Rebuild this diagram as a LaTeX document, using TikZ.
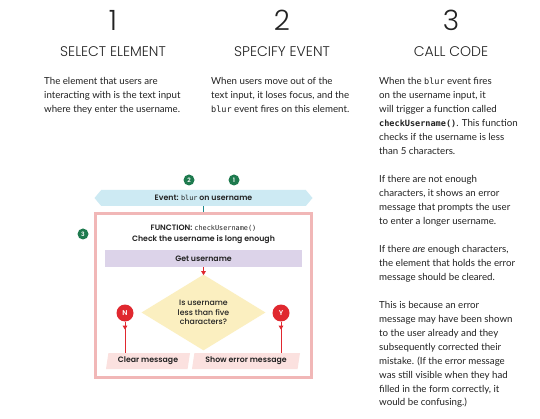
\documentclass[tikz,border=0pt]{standalone}
\usepackage{fontspec}
\usetikzlibrary{shapes.geometric,shapes.symbols,arrows.meta}
\setmainfont{Lato}
\IfFontExistsTF{Poppins Light}{\newfontfamily\headfont{Poppins Light}}{\newfontfamily\headfont{Poppins}}
\IfFontExistsTF{Poppins SemiBold}{\newfontfamily\dbf{Poppins SemiBold}}{\newfontfamily\dbfx{Poppins}\newcommand\dbf{\dbfx\bfseries}}
\IfFontExistsTF{Poppins Medium}{\newfontfamily\dmed{Poppins Medium}}{\newfontfamily\dmed{Poppins}}
\newfontfamily\codefont{DejaVu Sans Mono}[Scale=0.88]
\newcommand\code[1]{{\codefont #1}}
\definecolor{gcol}{HTML}{1E7A4E}
\definecolor{evblue}{HTML}{CDEAF3}
\definecolor{teal}{HTML}{1D8A8F}
\definecolor{pinkline}{HTML}{F1B7B7}
\definecolor{purp}{HTML}{DCD3E9}
\definecolor{redc}{HTML}{E0282F}
\definecolor{yel}{HTML}{FBEFC0}
\definecolor{pinkfill}{HTML}{FBE1DF}
\definecolor{txt}{HTML}{222222}
\begin{document}
\begin{tikzpicture}[x=1pt,y=-1pt,
  numst/.style={font=\headfont\fontsize{28}{28}\selectfont, text=txt, inner sep=0},
  headst/.style={font=\headfont\fontsize{14}{14}\selectfont, text=txt, inner sep=0},
  bodyst/.style={font=\fontsize{9.7}{13.9}\selectfont, text=txt, inner sep=0, align=left, anchor=north west},
  gcirc/.style={circle, fill=gcol, text=white, font=\dbf\fontsize{6}{6}\selectfont, inner sep=0, minimum size=11},
  rcirc/.style={circle, fill=redc, text=white, font=\dbf\fontsize{7}{7}\selectfont, inner sep=0, minimum size=17},
  dtext/.style={font=\dbf\fontsize{7.8}{10.4}\selectfont, text=txt},
  redline/.style={draw=redc, line width=0.9},
  redtip/.style={draw=redc, line width=0.9, -{Triangle[length=4pt,width=4.5pt]}},
  msgbox/.style={trapezium, trapezium left angle=73, trapezium right angle=107, trapezium stretches body, fill=pinkfill, minimum height=16, inner sep=0}
]
\useasboundingbox[fill=white] (0,0) rectangle (540,419);

% column headers
\node[numst] (n1) at (113,20) {1};
\node[numst] (n2) at (282,20) {2};
\node[numst] (n3) at (451,20) {3};
\node[headst] (h1) at (113,52) {SELECT ELEMENT};
\node[headst] (h2) at (282,52) {SPECIFY EVENT};
\node[headst] (h3) at (451,52) {CALL CODE};

% body text
\node[bodyst] (t1) at (44,77.3) {The element that users are\\interacting with is the text input\\where they enter the username.};
\node[bodyst] (t2) at (211,77.3) {When users move out of the\\text input, it loses focus, and the\\\code{blur} event fires on this element.};
\node[bodyst] (t3a) at (379,77.3) {When the \code{blur} event fires\\on the username input, it\\will trigger a function called\\{\codefont\bfseries checkUsername()}. This function\\checks if the username is less\\than 5 characters.};
\node[bodyst] (t3b) at (379,175.3) {If there are not enough\\characters, it shows an error\\message that prompts the user\\to enter a longer username.};
\node[bodyst] (t3c) at (379,245.3) {If there \textit{are} enough characters,\\the element that holds the error\\message should be cleared.};
\node[bodyst] (t3d) at (379,301.3) {This is because an error\\message may have been shown\\to the user already and they\\subsequently corrected their\\mistake. (If the error message\\was still visible when they had\\filled in the form correctly, it\\would be confusing.)};

% diagram
\node[draw=pinkline, line width=3, fill=white, minimum width=216, minimum height=164, inner sep=0] (fb) at (203.5,295.5) {};
\node[signal, signal to=west and east, signal pointer angle=100, fill=evblue, minimum width=218, minimum height=16, inner sep=0, dtext] (ev) at (203.5,198) {Event: \code{blur} on username};
\draw[teal, line width=1.2] (ev.south) -- (fb.north);
\node[gcirc] (g2) at (189,180) {2};
\node[gcirc] (g1) at (234,180) {1};
\node[gcirc] (g3) at (83,234) {3};

\node[dtext, align=center, inner sep=0] (ft) at (203.5,234.5) {FUNCTION: \code{checkUsername()}\\Check the username is long enough};
\node[fill=purp, minimum width=197, minimum height=17, inner sep=0, dtext] (gu) at (203.5,258.5) {Get username};
\node[diamond, fill=yel, minimum width=124, minimum height=61, inner sep=0, align=center, font=\dmed\fontsize{7.8}{9.4}\selectfont, text=txt] (dm) at (203.5,312.5) {Is username\\less than five\\characters?};
\node[rcirc] (nn) at (125,313) {N};
\node[rcirc] (yy) at (281,313) {Y};
\node[msgbox, minimum width=84, dtext] (cm) at (148,361) {Clear message};
\node[msgbox, minimum width=108, dtext] (se) at (246,361) {Show error message};

\draw[redline] (gu.south) -- (dm.north);
\draw[redtip] (gu.south) -- ++(0,8);
\draw[redline] (nn.south) -- (nn.south |- cm.north);
\draw[redtip] (nn.south) -- ++(0,8);
\draw[redline] (yy.south) -- (yy.south |- se.north);
\draw[redtip] (yy.south) -- ++(0,8);
\end{tikzpicture}
\end{document}
